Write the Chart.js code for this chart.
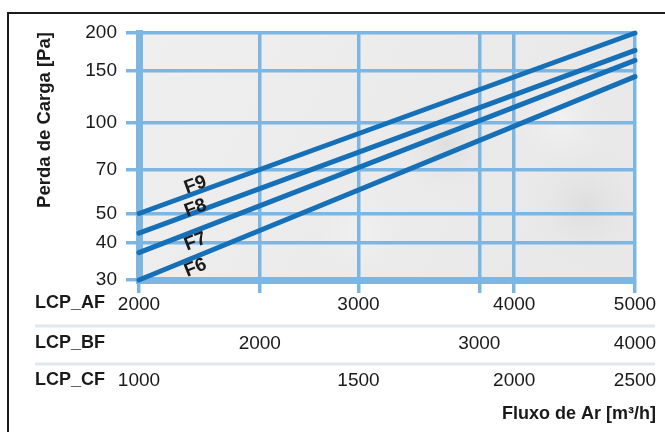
<!DOCTYPE html>
<html>
<head>
<meta charset="utf-8">
<script src="https://cdn.jsdelivr.net/npm/chart.js@4.4.1/dist/chart.umd.min.js"></script>
<style>
  html, body { margin: 0; padding: 0; background: #fff; }
  #wrap { position: relative; width: 665px; height: 432px; overflow: hidden; }
  #frame { position: absolute; left: 7px; top: 12px; width: 700px; height: 460px;
           border-left: 2px solid #1c1c1c; border-top: 2px solid #1c1c1c; pointer-events: none; }
  canvas { position: absolute; left: 0; top: 0; }
</style>
</head>
<body>
<div id="wrap">
  <canvas id="chart" width="665" height="432"></canvas>
  <div id="frame"></div>
</div>
<script>
// flow values (LCP_AF scale) at the two ends of each line
const flowAF = [2000, 5000];
// tick labels of the three flow rows
const afTicks = [2000, 3000, 4000, 5000];
const bfTicks = [2000, 3000, 4000];
const cfTicks = [1000, 1500, 2000, 2500];
const pressureTicks = [30, 40, 50, 70, 100, 150, 200];
// pressure drop [Pa] for each filter class
const seriesNames = ['F9', 'F8', 'F7', 'F6'];
const f9 = [50, 200];
const f8 = [43, 175];
const f7 = [37, 162];
const f6 = [30, 143];
const rowNames = ['LCP_AF', 'LCP_BF', 'LCP_CF'];

const gridBlue = '#7cb6e2';
const lineBlue = '#1670b8';
const textColor = '#1a1a1a';
const fontFam = "'Liberation Sans', Arial, Helvetica, sans-serif";
const labelFlow = 2220;               // where the F labels sit
const labelOffset = [-8, -4, 11, 11];  // px, above (-) or below (+) the line

Chart.defaults.font.family = fontFam;
Chart.defaults.font.size = 19;
Chart.defaults.color = textColor;

const afMax = afTicks[afTicks.length - 1];
const bfMax = bfTicks[bfTicks.length - 1];
const cfMax = cfTicks[cfTicks.length - 1];
// vertical grid: AF ticks plus BF ticks mapped onto the AF scale
const gridFlows = [...new Set(afTicks.concat(bfTicks.map(v => v * afMax / bfMax)))].sort((a, b) => a - b);

function toPoints(vals) {
    return flowAF.map((f, i) => ({ x: f, y: vals[i] }));
}

const plotBackground = {
    id: 'plotBackground',
    beforeDraw(chart) {
        const { ctx, chartArea: a } = chart;
        ctx.save();
        const g = ctx.createLinearGradient(a.left, a.top, a.right, a.bottom);
        g.addColorStop(0, '#efefef');
        g.addColorStop(0.5, '#ebebeb');
        g.addColorStop(1, '#e8e8e8');
        ctx.fillStyle = g;
        ctx.fillRect(a.left, a.top, a.right - a.left, a.bottom - a.top);
        // soft cloud patches
        const clouds = [[0.62, 0.45, 60, 'rgba(205,205,205,0.4)'], [0.9, 0.7, 70, 'rgba(208,208,208,0.45)'],
                        [0.85, 0.35, 50, 'rgba(250,250,250,0.5)'], [0.45, 0.8, 60, 'rgba(248,248,248,0.4)']];
        clouds.forEach(c => {
            const cx = a.left + c[0] * (a.right - a.left), cy = a.top + c[1] * (a.bottom - a.top);
            const r = ctx.createRadialGradient(cx, cy, 0, cx, cy, c[2]);
            r.addColorStop(0, c[3]);
            r.addColorStop(1, 'rgba(235,235,235,0)');
            ctx.fillStyle = r;
            ctx.fillRect(a.left, a.top, a.right - a.left, a.bottom - a.top);
        });
        ctx.restore();
    }
};

const textLayer = {
    id: 'textLayer',
    afterDatasetsDraw(chart) {
        const { ctx } = chart;
        const xs = chart.scales.x;
        ctx.save();
        ctx.font = 'bold 19px ' + fontFam;
        ctx.fillStyle = textColor;
        ctx.textAlign = 'center';
        ctx.textBaseline = 'middle';
        seriesNames.forEach((name, i) => {
            const pts = chart.getDatasetMeta(i).data;
            const p0 = pts[0], p1 = pts[pts.length - 1];
            const x = xs.getPixelForValue(labelFlow);
            const t = (x - p0.x) / (p1.x - p0.x);
            const y = p0.y + t * (p1.y - p0.y) + labelOffset[i];
            ctx.save();
            ctx.translate(x, y);
            ctx.rotate(Math.atan2(p1.y - p0.y, p1.x - p0.x));
            ctx.fillText(name, 0, 0);
            ctx.restore();
        });
        ctx.restore();
    },
    afterDraw(chart) {
        const { ctx } = chart;
        ctx.save();
        // row separators
        ctx.strokeStyle = '#dfe7ef';
        ctx.lineWidth = 3;
        [chart.scales.xb.top, chart.scales.xc.top].forEach(y => {
            ctx.beginPath();
            ctx.moveTo(35, y);
            ctx.lineTo(655, y);
            ctx.stroke();
        });
        ctx.font = 'bold 18px ' + fontFam;
        ctx.fillStyle = textColor;
        ctx.textBaseline = 'middle';
        ctx.textAlign = 'left';
        const rowY = [303, 343, 380];
        rowNames.forEach((n, i) => ctx.fillText(n, 35, rowY[i]));
        ctx.textAlign = 'right';
        ctx.fillText('Fluxo de Ar [m³/h]', 656, 414);
        ctx.font = 'bold 18.5px ' + fontFam;
        ctx.translate(45, 120);
        ctx.rotate(-Math.PI / 2);
        ctx.textAlign = 'center';
        ctx.fillText('Perda de Carga [Pa]', 0, 0);
        ctx.restore();
    }
};

const flowRow = (min, max, tickVals, weight, height, pad) => ({
    type: 'logarithmic',
    position: 'bottom',
    weight: weight,
    min: min,
    max: max,
    afterBuildTicks: s => { s.ticks = tickVals.map(v => ({ value: v })); },
    afterFit: s => { s.height = height; },
    grid: { display: false, drawTicks: false },
    border: { display: false },
    ticks: { autoSkip: false, maxRotation: 0, padding: pad, callback: v => String(v) }
});

new Chart(document.getElementById('chart'), {
    type: 'scatter',
    data: {
        datasets: [f9, f8, f7, f6].map((vals, i) => ({
            label: seriesNames[i],
            data: toPoints(vals),
            showLine: true,
            borderColor: lineBlue,
            backgroundColor: lineBlue,
            borderWidth: 5,
            borderCapStyle: 'round',
            pointRadius: 0,
            clip: 8,
            xAxisID: 'x',
            yAxisID: 'y'
        }))
    },
    options: {
        responsive: false,
        animation: false,
        layout: { padding: { left: 0, top: 33, right: 30, bottom: 34 } },
        plugins: { legend: { display: false }, tooltip: { enabled: false } },
        scales: {
            x: {
                type: 'logarithmic',
                position: 'bottom',
                weight: 0,
                min: afTicks[0],
                max: afMax,
                afterBuildTicks: s => { s.ticks = gridFlows.map(v => ({ value: v })); },
                afterFit: s => { s.height = 46; },
                grid: { color: gridBlue, lineWidth: 3.5, tickLength: 13, tickWidth: 3.5 },
                border: { color: gridBlue, width: 7 },
                ticks: { autoSkip: false, maxRotation: 0, padding: 0,
                         callback: v => afTicks.includes(v) ? String(v) : '' }
            },
            xb: flowRow(afTicks[0] * bfMax / afMax, bfMax, bfTicks, 1, 38, 6),
            xc: flowRow(afTicks[0] * cfMax / afMax, cfMax, cfTicks, 2, 34, 5),
            y: {
                type: 'logarithmic',
                min: pressureTicks[0],
                max: pressureTicks[pressureTicks.length - 1],
                afterBuildTicks: s => { s.ticks = pressureTicks.map(v => ({ value: v })); },
                afterFit: s => { s.width = 139; },
                grid: { color: gridBlue, lineWidth: 3.5, tickLength: 13, tickWidth: 3.5 },
                border: { color: gridBlue, width: 7 },
                ticks: { padding: 9, callback: v => String(v) }
            }
        }
    },
    plugins: [plotBackground, textLayer]
});
</script>
</body>
</html>
